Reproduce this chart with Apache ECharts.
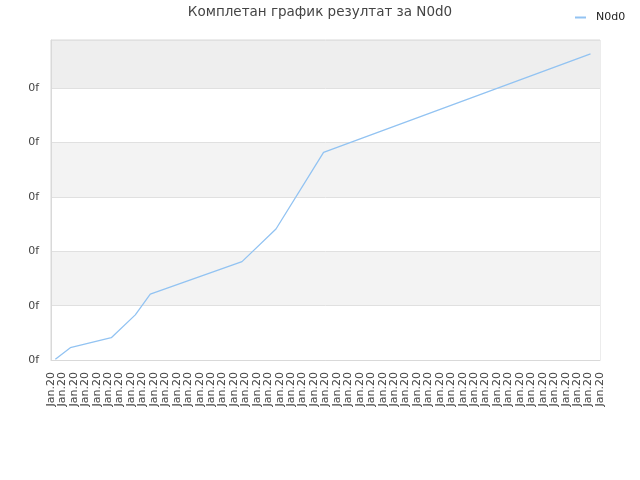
<!DOCTYPE html>
<html>
<head>
<meta charset="utf-8">
<script src="https://cdn.jsdelivr.net/npm/echarts@6/dist/echarts.min.js"></script>
<style>html,body{margin:0;padding:0;background:#fff}#c{width:640px;height:480px}</style>
</head>
<body>
<div id="c"></div>
<script>
const titleText = 'Комплетан график резултат за N0d0';
const seriesName = 'N0d0';
const xTickLabels = Array.from({length: 49}, () => 'Jan.20');
const yTickLabels = ['0f', '0f', '0f', '0f', '0f', '0f'];
const xValues = [0.38, 1.69, 5.27, 7.37, 8.68, 16.70, 19.67, 23.83, 47.17];
const yValues = [0.013, 0.227, 0.41, 0.83, 1.21, 1.81, 2.41, 3.82, 5.63];

const chart = echarts.init(document.getElementById('c'), null, {renderer: 'canvas'});
const font = 'DejaVu Sans';
chart.setOption({
  animation: false,
  backgroundColor: '#ffffff',
  title: {
    text: titleText,
    left: 'center',
    top: 0,
    textStyle: {fontFamily: font, fontSize: 13.5, fontWeight: 'normal', color: '#444444'}
  },
  legend: {
    data: [seriesName],
    left: 570,
    top: 7,
    icon: 'rect',
    itemWidth: 11,
    itemHeight: 2,
    textStyle: {fontFamily: font, fontSize: 11, color: '#222222', padding: [0, 0, 0, 5]}
  },
  grid: {
    left: 51, right: 40, top: 40, bottom: 120,
    show: true, borderColor: '#d9d9d9', borderWidth: 1, backgroundColor: 'transparent',
    containLabel: false
  },
  xAxis: {
    type: 'value',
    min: 0, max: xTickLabels.length - 1, interval: 1,
    axisLine: {show: true, lineStyle: {color: '#d9d9d9'}},
    axisTick: {show: false},
    splitLine: {show: false},
    axisLabel: {
      rotate: 90, margin: 12, fontFamily: font, fontSize: 11, color: '#444444',
      formatter: v => xTickLabels[Math.round(v)] || ''
    }
  },
  yAxis: {
    type: 'value',
    min: 0, max: 5.887, interval: 1,
    axisLine: {show: true, lineStyle: {color: '#d9d9d9'}},
    axisTick: {show: false},
    splitLine: {show: true, lineStyle: {color: '#e0e0e0'}},
    splitArea: {show: true, areaStyle: {color: ['#ffffff', '#f3f3f3', '#ffffff', '#f3f3f3', '#ffffff', '#eeeeee']}},
    axisLabel: {
      margin: 12, fontFamily: font, fontSize: 11, color: '#444444', showMaxLabel: false,
      formatter: v => yTickLabels[Math.round(v)] || ''
    }
  },
  series: [{
    name: seriesName,
    type: 'line',
    data: xValues.map((x, i) => [x, yValues[i]]),
    showSymbol: false,
    symbol: 'none',
    lineStyle: {width: 1.3, color: '#92c3f2'},
    itemStyle: {color: '#92c3f2'}
  }]
});
</script>
</body>
</html>
